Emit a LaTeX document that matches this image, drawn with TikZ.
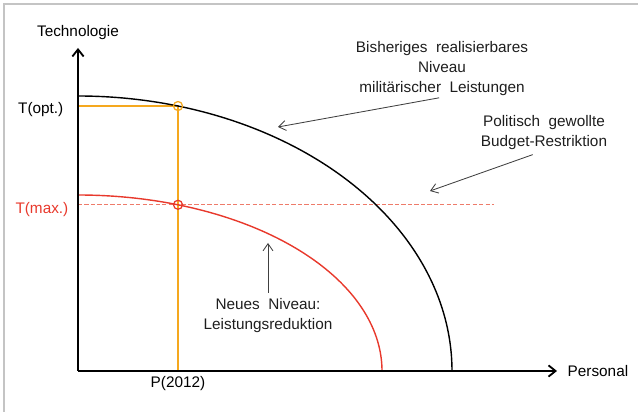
\documentclass[tikz,border=0pt]{standalone}
\usepackage{fontspec}
\setmainfont{Liberation Sans}
\usepackage{tikz}
\usepackage{xcolor}
\usetikzlibrary{arrows.meta,positioning,calc}
\definecolor{frgray}{HTML}{C4C4C4}
\definecolor{lvorange}{HTML}{F5A81E}
\definecolor{lvred}{HTML}{E8392C}
\definecolor{lvdash}{HTML}{EE7B6A}
\definecolor{txtdark}{HTML}{1E1E1E}

\begin{document}
\begin{tikzpicture}[x=0.025cm, y=0.025cm,
  % axes and pointer arrows share the open barb tip
  axisline/.style={line width=1.3pt, draw=black, -{Straight Barb[length=5pt, width=8pt]}},
  pointer/.style={line width=0.6pt, draw=txtdark!85, -{Straight Barb[length=5pt, width=7pt]}},
  oldlevel/.style={line width=1pt, draw=black},
  newlevel/.style={line width=1pt, draw=lvred},
  optline/.style={line width=0.9pt, draw=lvorange},
  budgetline/.style={line width=0.5pt, draw=lvdash, dash pattern=on 3pt off 1.6pt},
  ptmark/.style={circle, inner sep=0pt, minimum size=9*0.025cm, line width=0.9pt},
  lbl/.style={font=\fontsize{10.9}{14.2}\selectfont, text=txtdark, align=center, inner sep=1pt},
]
\useasboundingbox (0,0) rectangle (638,412);
% frame (top and left edge only)
\draw[frgray, line width=1.1pt] (4,0) -- (4,408) -- (638,408);

\def\xO{78}\def\yO{41}
\def\xP{178}
% old and new production levels (quarter ellipses)
\def\rxA{374}\def\ryA{275}
\def\rxB{304}\def\ryB{176}
\pgfmathsetmacro{\yopt}{\yO + \ryA*sqrt(1-((\xP-\xO)/\rxA)^2)}
\pgfmathsetmacro{\ymax}{\yO + \ryB*sqrt(1-((\xP-\xO)/\rxB)^2)}

\coordinate (origin) at (\xO,\yO);
\coordinate (optpt) at (\xP,\yopt);
\coordinate (maxpt) at (\xP,\ymax);
\coordinate (optleft) at (\xO,\yopt);
\coordinate (maxleft) at (\xO,\ymax);
\coordinate (pbase) at (\xP,\yO);
\coordinate (budgetend) at (494,\ymax);

\draw[budgetline] (maxleft) -- (budgetend);
\draw[optline] (optleft) -- (optpt) -- (pbase);

\draw[oldlevel] plot[domain=0:90, samples=90, smooth] ({\xO+\rxA*cos(\x)},{\yO+\ryA*sin(\x)});
\draw[newlevel] plot[domain=0:90, samples=90, smooth] ({\xO+\rxB*cos(\x)},{\yO+\ryB*sin(\x)});

\node[ptmark, draw=lvorange] (optmark) at (optpt) {};
\node[ptmark, draw=lvred] (maxmark) at (maxpt) {};

% axes
\coordinate (ytop) at (\xO,364);
\coordinate (xend) at (557,\yO);
\draw[axisline] (origin) -- (ytop);
\draw[axisline] (origin) -- (xend);
\node[lbl, text=black] (ylabel) at (78,379) {Technologie};
\node[lbl, text=black, anchor=west] (xlabel) at (566,\yO) {Personal};
\node[lbl, text=black] (plabel) at (\xP,28) {P(2012)};
\node[lbl, text=black, anchor=east] (toptlbl) at (65,302) {T(opt.)};
\node[lbl, text=lvred, anchor=east] (tmaxlbl) at (70,202) {T(max.)};

% annotations
\node[lbl] (oldtxt) at (442,343) {Bisheriges\ \ realisierbares\\Niveau\\militärischer\ \ Leistungen};
\node[lbl] (budgettxt) at (544,279) {Politisch\ \ gewollte\\Budget-Restriktion};
\node[lbl] (newtxt) at (268,96) {Neues\ \ Niveau:\\Leistungsreduktion};

\coordinate (oldtip) at (278,285);
\coordinate (budgettip) at (430,221);
\coordinate (newtip) at (268,169);
\draw[pointer] ([xshift=-2pt]oldtxt.south) -- (oldtip);
\draw[pointer] ([xshift=-8pt, yshift=-2pt]budgettxt.south) -- (budgettip);
\draw[pointer] ([yshift=3pt]newtxt.north) -- (newtip);
\end{tikzpicture}
\end{document}
